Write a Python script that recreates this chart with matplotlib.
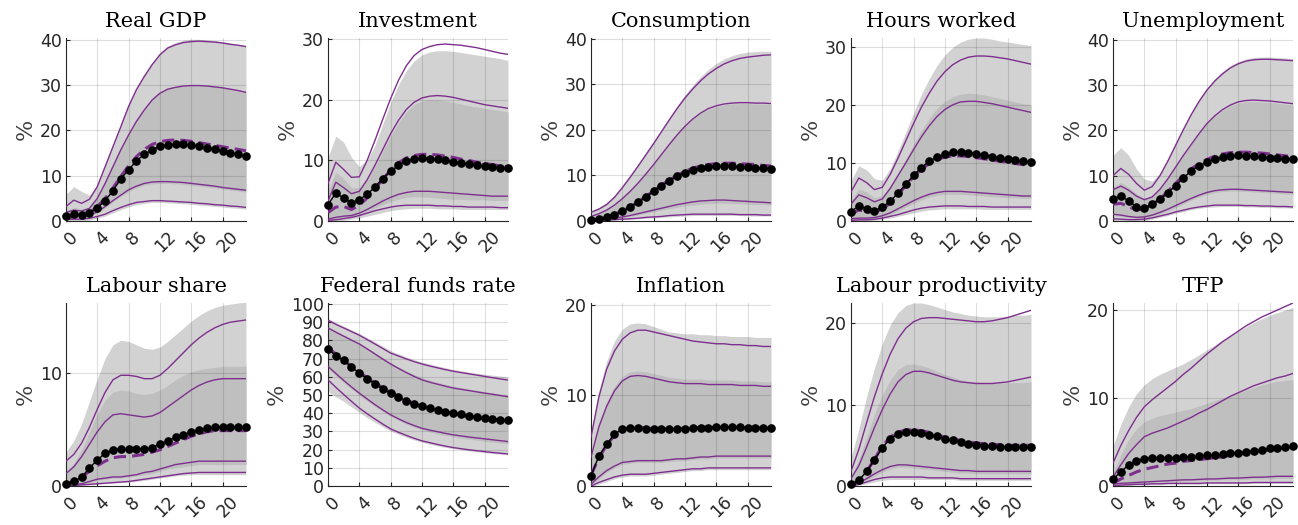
import numpy as np
import matplotlib.pyplot as plt
from matplotlib.transforms import ScaledTranslation

horizon = np.arange(24)

titles = ["Real GDP", "Investment", "Consumption", "Hours worked", "Unemployment",
          "Labour share", "Federal funds rate", "Inflation", "Labour productivity", "TFP"]
ytops = [40.4, 30.2, 40.2, 31.5, 40.4, 16.2, 100.5, 20.2, 22.5, 20.8]
yticks = [[0, 10, 20, 30, 40], [0, 10, 20, 30], [0, 10, 20, 30, 40], [0, 10, 20, 30],
          [0, 10, 20, 30, 40], [0, 10], list(range(0, 101, 10)), [0, 10, 20], [0, 10, 20], [0, 10, 20]]
xticks = [0, 4, 8, 12, 16, 20]

# ---------------- Real GDP
gdp_dots = [1.1, 1.5, 1.3, 1.7, 2.9, 4.5, 6.7, 9.3, 11.3, 13.3, 14.7, 15.7, 16.5, 16.8, 16.9, 16.9, 16.8, 16.5, 16.1, 15.8, 15.4, 15.0, 14.7, 14.3]
gdp_med = [0.5, 1.0, 1.2, 1.8, 3.2, 5.0, 7.3, 9.8, 12.2, 14.2, 15.8, 16.9, 17.5, 17.8, 17.9, 17.8, 17.6, 17.3, 17.0, 16.7, 16.4, 16.1, 15.8, 15.5]
gdp_p95 = [3.2, 4.6, 3.9, 4.8, 7.6, 12.0, 16.4, 20.8, 25.3, 29.0, 31.9, 34.5, 36.7, 38.2, 38.9, 39.4, 39.6, 39.7, 39.6, 39.5, 39.3, 39.0, 38.8, 38.5]
gdp_p84 = [1.9, 2.4, 2.2, 2.8, 5.0, 8.3, 12.0, 15.7, 19.0, 22.0, 24.5, 26.7, 28.2, 29.1, 29.5, 29.8, 29.9, 29.9, 29.8, 29.6, 29.4, 29.1, 28.8, 28.4]
gdp_p16 = [1.0, 1.1, 1.1, 1.3, 2.0, 3.2, 4.5, 5.7, 6.9, 7.7, 8.3, 8.6, 8.7, 8.7, 8.6, 8.5, 8.3, 8.1, 7.9, 7.7, 7.4, 7.2, 7.0, 6.8]
gdp_p05 = [0.4, 0.4, 0.4, 0.6, 1.0, 1.5, 2.3, 3.0, 3.6, 4.1, 4.3, 4.5, 4.5, 4.4, 4.3, 4.2, 4.1, 3.9, 3.8, 3.6, 3.5, 3.3, 3.2, 3.0]
gdp_g95 = [5.9, 7.6, 6.5, 5.7, 8.0, 12.3, 16.8, 21.2, 25.7, 29.4, 32.3, 34.9, 37.1, 38.6, 39.4, 39.9, 40.1, 40.1, 40.0, 39.8, 39.6, 39.3, 39.0, 38.7]
gdp_g84 = [2.3, 3.0, 2.7, 3.0, 5.2, 8.5, 12.2, 15.9, 19.2, 22.2, 24.7, 26.9, 28.4, 29.3, 29.7, 30.0, 30.1, 30.1, 30.0, 29.8, 29.6, 29.3, 29.0, 28.6]
gdp_g16 = [0.8, 0.9, 0.9, 1.1, 1.8, 2.9, 4.2, 5.4, 6.5, 7.3, 7.9, 8.2, 8.3, 8.3, 8.2, 8.1, 7.9, 7.7, 7.5, 7.3, 7.0, 6.8, 6.6, 6.4]
gdp_g05 = [0.0, 0.0, 0.0, 0.2, 0.6, 1.1, 1.8, 2.5, 3.1, 3.6, 3.9, 4.1, 4.1, 4.0, 3.9, 3.8, 3.7, 3.5, 3.4, 3.2, 3.1, 2.9, 2.8, 2.6]

# ---------------- Investment
inv_dots = [2.7, 4.6, 3.8, 3.0, 3.5, 4.4, 5.6, 7.0, 8.2, 9.2, 9.9, 10.2, 10.4, 10.3, 10.2, 10.0, 9.8, 9.6, 9.4, 9.2, 9.0, 8.9, 8.8, 8.7]
inv_med = [1.4, 2.3, 2.4, 1.9, 2.6, 3.8, 5.3, 6.9, 8.4, 9.6, 10.4, 10.8, 11.0, 11.0, 10.9, 10.7, 10.5, 10.2, 10.0, 9.7, 9.5, 9.3, 9.1, 8.9]
inv_p95 = [6.2, 9.7, 8.5, 7.2, 7.3, 10.0, 13.3, 16.8, 20.2, 23.2, 25.6, 27.3, 28.3, 28.8, 29.1, 29.2, 29.1, 29.0, 28.8, 28.6, 28.3, 28.0, 27.7, 27.5]
inv_p84 = [3.3, 6.4, 5.5, 4.5, 4.9, 6.8, 9.2, 11.8, 14.4, 16.6, 18.4, 19.6, 20.3, 20.6, 20.7, 20.6, 20.4, 20.1, 19.8, 19.5, 19.2, 19.0, 18.8, 18.6]
inv_p16 = [0.3, 0.6, 0.8, 0.9, 1.3, 1.9, 2.6, 3.3, 3.9, 4.4, 4.7, 4.9, 4.9, 4.9, 4.8, 4.7, 4.6, 4.5, 4.4, 4.3, 4.2, 4.1, 4.1, 4.1]
inv_p05 = [0.1, 0.2, 0.4, 0.6, 0.9, 1.3, 1.7, 2.0, 2.3, 2.5, 2.6, 2.6, 2.6, 2.6, 2.5, 2.5, 2.4, 2.4, 2.3, 2.3, 2.3, 2.3, 2.2, 2.2]
inv_g95 = [10.5, 14.0, 13.0, 10.5, 9.0, 10.0, 12.5, 16.0, 19.5, 22.5, 24.8, 26.4, 27.4, 27.9, 28.1, 28.1, 28.0, 27.8, 27.6, 27.4, 27.2, 27.0, 26.8, 26.5]
inv_g84 = [5.0, 8.0, 7.0, 5.5, 5.5, 6.8, 9.0, 11.5, 14.0, 16.2, 18.0, 19.2, 19.8, 20.0, 20.0, 19.8, 19.6, 19.3, 19.0, 18.8, 18.6, 18.4, 18.2, 18.0]
inv_g16 = [0.2, 0.4, 0.6, 0.7, 1.0, 1.5, 2.1, 2.7, 3.2, 3.6, 3.9, 4.0, 4.0, 3.9, 3.8, 3.7, 3.6, 3.6, 3.5, 3.5, 3.5, 3.4, 3.4, 3.4]
inv_g05 = [0.0, 0.0, 0.1, 0.3, 0.5, 0.8, 1.1, 1.4, 1.7, 1.9, 2.0, 2.1, 2.1, 2.1, 2.0, 2.0, 2.0, 1.9, 1.9, 1.9, 1.9, 1.9, 1.9, 1.9]

# ---------------- Consumption
con_dots = [0.2, 0.5, 0.9, 1.4, 2.1, 3.0, 4.1, 5.3, 6.5, 7.7, 8.8, 9.8, 10.6, 11.2, 11.6, 11.9, 12.0, 12.1, 12.0, 11.9, 11.8, 11.7, 11.6, 11.5]
con_med = [0.2, 0.5, 0.9, 1.5, 2.2, 3.1, 4.2, 5.4, 6.6, 7.9, 9.0, 10.0, 10.9, 11.6, 12.1, 12.4, 12.6, 12.7, 12.7, 12.6, 12.5, 12.4, 12.2, 12.1]
con_p95 = [1.9, 2.6, 3.6, 5.2, 7.3, 9.6, 12.0, 14.5, 17.0, 19.6, 22.2, 24.7, 27.0, 29.0, 30.8, 32.3, 33.5, 34.5, 35.2, 35.7, 36.0, 36.2, 36.4, 36.5]
con_p84 = [1.0, 1.6, 2.4, 3.5, 4.9, 6.5, 8.3, 10.3, 12.4, 14.6, 16.8, 18.9, 20.8, 22.4, 23.7, 24.7, 25.3, 25.7, 25.9, 26.0, 26.0, 25.9, 25.9, 25.8]
con_p16 = [0.1, 0.2, 0.4, 0.6, 0.9, 1.2, 1.6, 2.0, 2.4, 2.8, 3.2, 3.6, 3.9, 4.2, 4.4, 4.5, 4.6, 4.6, 4.5, 4.4, 4.3, 4.2, 4.1, 4.0]
con_p05 = [0.0, 0.1, 0.2, 0.3, 0.4, 0.5, 0.6, 0.8, 0.9, 1.0, 1.2, 1.3, 1.4, 1.5, 1.5, 1.5, 1.5, 1.5, 1.5, 1.4, 1.4, 1.4, 1.3, 1.3]
con_g95 = [2.2, 3.0, 4.1, 5.7, 7.8, 10.1, 12.5, 15.0, 17.5, 20.1, 22.7, 25.3, 27.7, 29.8, 31.7, 33.3, 34.6, 35.6, 36.3, 36.8, 37.1, 37.2, 37.3, 37.3]
con_g84 = [1.1, 1.7, 2.5, 3.6, 5.0, 6.6, 8.4, 10.4, 12.5, 14.7, 16.9, 19.0, 20.8, 22.3, 23.6, 24.5, 25.1, 25.5, 25.7, 25.8, 25.8, 25.7, 25.7, 25.6]
con_g16 = [0.1, 0.2, 0.3, 0.5, 0.7, 1.0, 1.3, 1.7, 2.0, 2.4, 2.7, 3.0, 3.3, 3.5, 3.7, 3.8, 3.9, 3.9, 3.8, 3.8, 3.7, 3.6, 3.6, 3.5]
con_g05 = [0.0, 0.0, 0.1, 0.2, 0.3, 0.4, 0.5, 0.6, 0.7, 0.8, 0.9, 1.0, 1.1, 1.2, 1.2, 1.2, 1.2, 1.2, 1.2, 1.2, 1.1, 1.1, 1.1, 1.1]

# ---------------- Hours worked
hrs_dots = [1.6, 2.6, 2.1, 1.8, 2.4, 3.4, 4.8, 6.3, 7.9, 9.2, 10.3, 11.0, 11.5, 11.8, 11.8, 11.7, 11.6, 11.4, 11.1, 10.9, 10.7, 10.5, 10.3, 10.2]
hrs_med = [1.2, 1.9, 1.6, 1.5, 2.0, 3.1, 4.5, 6.1, 7.6, 8.9, 9.9, 10.6, 11.0, 11.2, 11.2, 11.1, 10.9, 10.7, 10.5, 10.3, 10.1, 9.9, 9.7, 9.6]
hrs_p95 = [5.0, 7.4, 6.6, 5.4, 5.8, 8.0, 10.8, 13.8, 16.8, 19.6, 22.0, 24.1, 25.7, 26.9, 27.7, 28.2, 28.4, 28.4, 28.3, 28.1, 27.9, 27.6, 27.3, 27.0]
hrs_p84 = [2.9, 4.5, 4.0, 3.3, 3.8, 5.6, 7.8, 10.0, 12.3, 14.5, 16.4, 18.0, 19.2, 20.0, 20.5, 20.6, 20.6, 20.4, 20.2, 19.9, 19.6, 19.3, 19.0, 18.7]
hrs_p16 = [0.4, 0.5, 0.5, 0.6, 0.9, 1.4, 2.1, 2.8, 3.5, 4.1, 4.6, 4.9, 5.1, 5.1, 5.1, 5.0, 4.9, 4.8, 4.7, 4.6, 4.5, 4.4, 4.3, 4.3]
hrs_p05 = [0.1, 0.2, 0.2, 0.3, 0.5, 0.8, 1.1, 1.5, 1.9, 2.2, 2.4, 2.5, 2.6, 2.6, 2.6, 2.5, 2.5, 2.5, 2.4, 2.4, 2.4, 2.4, 2.4, 2.4]
hrs_g95 = [7.0, 9.5, 8.8, 7.3, 7.0, 9.0, 12.0, 15.3, 18.6, 21.8, 24.5, 26.8, 28.6, 29.9, 30.8, 31.3, 31.5, 31.5, 31.3, 31.0, 30.8, 30.6, 30.4, 30.2]
hrs_g84 = [3.5, 5.5, 5.0, 4.0, 4.3, 6.0, 8.2, 10.7, 13.2, 15.6, 17.7, 19.4, 20.6, 21.4, 21.8, 22.0, 21.9, 21.7, 21.4, 21.1, 20.8, 20.5, 20.2, 20.0]
hrs_g16 = [0.2, 0.3, 0.3, 0.4, 0.7, 1.1, 1.7, 2.4, 3.0, 3.6, 4.1, 4.4, 4.6, 4.6, 4.6, 4.5, 4.4, 4.3, 4.2, 4.1, 4.0, 4.0, 3.9, 3.9]
hrs_g05 = [0.0, 0.0, 0.0, 0.1, 0.3, 0.5, 0.8, 1.1, 1.4, 1.7, 1.9, 2.0, 2.1, 2.1, 2.1, 2.1, 2.1, 2.0, 2.0, 2.0, 2.0, 2.0, 2.0, 2.0]

# ---------------- Unemployment
une_dots = [4.8, 5.6, 4.4, 3.2, 2.9, 3.7, 4.8, 6.2, 7.8, 9.5, 11.1, 12.2, 13.0, 13.7, 14.1, 14.4, 14.5, 14.4, 14.3, 14.1, 14.0, 13.8, 13.6, 13.6]
une_med = [3.7, 3.9, 3.2, 2.4, 2.7, 3.6, 4.9, 6.5, 8.3, 10.0, 11.5, 12.7, 13.6, 14.3, 14.8, 15.1, 15.2, 15.2, 15.1, 15.0, 14.8, 14.6, 14.4, 14.2]
une_p95 = [10.0, 11.6, 10.3, 8.3, 6.8, 7.6, 10.0, 13.2, 16.7, 20.2, 23.5, 26.4, 28.9, 30.9, 32.5, 33.8, 34.7, 35.3, 35.6, 35.7, 35.7, 35.6, 35.5, 35.4]
une_p84 = [6.9, 7.7, 6.8, 5.5, 4.7, 5.3, 7.0, 9.3, 11.9, 14.5, 16.9, 19.3, 21.5, 23.2, 24.6, 25.6, 26.3, 26.6, 26.7, 26.6, 26.5, 26.3, 26.1, 25.9]
une_p16 = [1.5, 1.3, 1.0, 0.8, 0.9, 1.3, 1.9, 2.6, 3.4, 4.2, 5.0, 5.7, 6.3, 6.7, 6.9, 7.0, 7.0, 6.9, 6.8, 6.7, 6.6, 6.5, 6.4, 6.3]
une_p05 = [0.5, 0.4, 0.3, 0.3, 0.4, 0.7, 1.1, 1.5, 2.0, 2.4, 2.8, 3.1, 3.3, 3.5, 3.5, 3.5, 3.5, 3.4, 3.4, 3.3, 3.3, 3.2, 3.2, 3.1]
une_g95 = [14.5, 16.2, 14.5, 11.5, 9.3, 8.8, 10.5, 13.5, 17.0, 20.5, 23.8, 26.8, 29.3, 31.4, 33.0, 34.3, 35.2, 35.8, 36.1, 36.2, 36.2, 36.1, 36.0, 35.8]
une_g84 = [7.5, 8.5, 7.5, 6.0, 5.0, 5.5, 7.2, 9.5, 12.1, 14.7, 17.1, 19.4, 21.5, 23.1, 24.4, 25.4, 26.0, 26.3, 26.4, 26.3, 26.2, 26.0, 25.8, 25.6]
une_g16 = [1.2, 1.0, 0.8, 0.6, 0.7, 1.0, 1.5, 2.2, 3.0, 3.8, 4.6, 5.3, 5.9, 6.3, 6.5, 6.6, 6.6, 6.5, 6.4, 6.3, 6.2, 6.1, 6.0, 5.9]
une_g05 = [0.0, 0.0, 0.0, 0.0, 0.1, 0.4, 0.8, 1.2, 1.7, 2.1, 2.5, 2.8, 3.0, 3.1, 3.2, 3.2, 3.2, 3.1, 3.1, 3.0, 3.0, 2.9, 2.9, 2.8]

# ---------------- Labour share
lsh_dots = [0.2, 0.4, 0.8, 1.6, 2.3, 2.9, 3.2, 3.3, 3.3, 3.3, 3.3, 3.4, 3.7, 4.0, 4.3, 4.5, 4.8, 5.0, 5.1, 5.2, 5.2, 5.2, 5.2, 5.2]
lsh_med = [0.2, 0.4, 0.8, 1.3, 1.8, 2.2, 2.5, 2.6, 2.6, 2.7, 2.8, 3.0, 3.2, 3.5, 3.8, 4.1, 4.4, 4.6, 4.8, 4.9, 4.9, 4.9, 4.9, 4.9]
lsh_p95 = [2.2, 2.8, 3.8, 5.2, 6.8, 8.3, 9.4, 9.8, 9.8, 9.7, 9.5, 9.5, 9.8, 10.4, 11.1, 11.8, 12.5, 13.1, 13.6, 14.0, 14.3, 14.5, 14.6, 14.7]
lsh_p84 = [1.1, 1.7, 2.6, 3.7, 4.8, 5.7, 6.3, 6.4, 6.3, 6.2, 6.1, 6.2, 6.5, 7.0, 7.5, 8.0, 8.5, 8.9, 9.2, 9.4, 9.5, 9.5, 9.5, 9.5]
lsh_p16 = [0.0, 0.1, 0.2, 0.4, 0.6, 0.7, 0.8, 0.8, 0.9, 1.0, 1.2, 1.3, 1.5, 1.7, 1.9, 2.0, 2.1, 2.2, 2.2, 2.2, 2.2, 2.2, 2.2, 2.2]
lsh_p05 = [0.0, 0.05, 0.1, 0.15, 0.2, 0.25, 0.3, 0.35, 0.4, 0.5, 0.6, 0.7, 0.8, 0.9, 1.0, 1.1, 1.15, 1.2, 1.2, 1.2, 1.2, 1.2, 1.2, 1.2]
lsh_g95 = [3.0, 4.0, 5.5, 7.5, 9.5, 11.3, 12.5, 12.9, 12.8, 12.5, 12.2, 12.1, 12.3, 12.8, 13.4, 14.0, 14.6, 15.1, 15.5, 15.8, 16.0, 16.1, 16.2, 16.3]
lsh_g84 = [1.3, 2.0, 3.2, 4.8, 6.4, 7.6, 8.3, 8.5, 8.4, 8.2, 8.1, 8.2, 8.5, 8.9, 9.4, 9.8, 10.1, 10.3, 10.4, 10.5, 10.6, 10.6, 10.6, 10.6]
lsh_g16 = [0.0, 0.1, 0.2, 0.3, 0.5, 0.6, 0.7, 0.7, 0.8, 0.9, 1.0, 1.1, 1.3, 1.5, 1.6, 1.7, 1.8, 1.9, 1.9, 1.9, 1.9, 1.9, 1.9, 1.9]
lsh_g05 = [0.0, 0.0, 0.05, 0.1, 0.15, 0.2, 0.25, 0.3, 0.35, 0.4, 0.5, 0.6, 0.7, 0.8, 0.9, 0.95, 1.0, 1.0, 1.0, 1.0, 1.0, 1.0, 1.0, 1.0]

# ---------------- Federal funds rate
ffr_dots = [75.2, 71.6, 69.0, 65.3, 62.0, 58.9, 56.1, 53.2, 51.0, 48.8, 46.8, 45.1, 44.0, 42.8, 41.8, 40.9, 40.0, 39.3, 38.5, 38.0, 37.4, 36.9, 36.5, 36.0]
ffr_med = [76.0, 72.5, 69.0, 65.8, 62.5, 59.5, 56.6, 53.9, 51.4, 49.2, 47.2, 45.4, 43.9, 42.6, 41.5, 40.5, 39.6, 38.8, 38.1, 37.5, 36.9, 36.4, 36.0, 35.6]
ffr_p95 = [91.0, 88.8, 86.8, 84.8, 82.8, 80.4, 78.0, 75.5, 73.0, 71.4, 69.8, 68.3, 67.0, 65.9, 64.9, 63.9, 63.0, 62.3, 61.6, 60.9, 60.2, 59.5, 58.8, 58.2]
ffr_p84 = [86.8, 84.5, 82.3, 80.1, 78.0, 75.3, 72.5, 69.7, 67.0, 64.6, 62.3, 60.2, 58.3, 57.0, 55.9, 54.8, 53.8, 53.1, 52.4, 51.7, 51.0, 50.4, 49.7, 49.0]
ffr_p16 = [65.7, 61.8, 58.0, 54.4, 51.0, 47.8, 44.7, 41.8, 39.1, 36.9, 34.9, 33.2, 31.7, 30.7, 29.8, 28.9, 28.1, 27.5, 26.9, 26.4, 25.9, 25.4, 24.9, 24.4]
ffr_p05 = [58.3, 54.2, 50.3, 46.5, 42.8, 39.7, 36.8, 34.0, 31.4, 29.5, 27.8, 26.2, 24.8, 23.8, 22.8, 21.9, 21.1, 20.5, 19.9, 19.4, 18.9, 18.4, 18.0, 17.6]
ffr_g95 = [92.0, 89.8, 87.8, 85.8, 83.8, 81.5, 79.2, 76.8, 74.4, 72.6, 70.9, 69.4, 68.1, 67.0, 66.0, 65.0, 64.1, 63.3, 62.6, 62.0, 61.4, 60.9, 60.4, 60.0]
ffr_g84 = [87.5, 85.2, 83.0, 80.8, 78.7, 76.0, 73.3, 70.5, 67.9, 65.5, 63.3, 61.3, 59.5, 58.2, 57.0, 55.9, 54.9, 54.1, 53.3, 52.6, 51.9, 51.2, 50.6, 50.0]
ffr_g16 = [64.5, 60.6, 56.8, 53.2, 49.8, 46.6, 43.6, 40.8, 38.2, 36.0, 34.0, 32.3, 30.8, 29.7, 28.7, 27.8, 27.0, 26.3, 25.7, 25.1, 24.6, 24.1, 23.6, 23.2]
ffr_g05 = [52.0, 49.0, 46.5, 43.5, 40.5, 37.5, 35.0, 32.5, 30.2, 28.4, 26.8, 25.3, 24.0, 23.0, 22.0, 21.2, 20.5, 19.9, 19.3, 18.8, 18.3, 17.9, 17.5, 17.1]

# ---------------- Inflation
inf_dots = [1.1, 3.3, 4.6, 5.7, 6.3, 6.4, 6.4, 6.3, 6.3, 6.3, 6.3, 6.3, 6.3, 6.4, 6.4, 6.4, 6.5, 6.5, 6.5, 6.5, 6.4, 6.4, 6.4, 6.4]
inf_med = [1.2, 3.1, 4.5, 5.6, 6.2, 6.5, 6.5, 6.4, 6.3, 6.3, 6.3, 6.3, 6.4, 6.4, 6.5, 6.5, 6.5, 6.5, 6.5, 6.5, 6.5, 6.5, 6.4, 6.4]
inf_p95 = [5.4, 9.8, 12.9, 14.9, 16.2, 16.9, 17.2, 17.2, 17.0, 16.8, 16.6, 16.4, 16.2, 16.0, 15.9, 15.8, 15.7, 15.7, 15.6, 15.6, 15.5, 15.5, 15.4, 15.4]
inf_p84 = [3.2, 6.5, 8.8, 10.5, 11.6, 12.1, 12.2, 12.1, 11.9, 11.7, 11.5, 11.4, 11.3, 11.3, 11.3, 11.2, 11.2, 11.2, 11.2, 11.1, 11.1, 11.1, 11.0, 11.0]
inf_p16 = [0.2, 1.0, 1.7, 2.2, 2.6, 2.7, 2.8, 2.8, 2.8, 2.8, 2.9, 3.0, 3.0, 3.1, 3.2, 3.2, 3.3, 3.3, 3.3, 3.3, 3.3, 3.3, 3.3, 3.3]
inf_p05 = [0.0, 0.4, 0.7, 1.0, 1.2, 1.3, 1.3, 1.3, 1.4, 1.5, 1.6, 1.7, 1.8, 1.9, 1.9, 2.0, 2.0, 2.0, 2.0, 2.0, 2.0, 2.0, 2.0, 2.0]
inf_g95 = [6.0, 10.5, 13.8, 16.0, 17.3, 17.9, 18.0, 17.9, 17.6, 17.3, 17.0, 16.9, 16.8, 16.8, 16.7, 16.7, 16.6, 16.6, 16.5, 16.5, 16.5, 16.4, 16.4, 16.4]
inf_g84 = [3.5, 7.0, 9.3, 11.0, 12.1, 12.6, 12.7, 12.6, 12.4, 12.2, 12.0, 11.9, 11.8, 11.8, 11.8, 11.7, 11.7, 11.7, 11.7, 11.6, 11.6, 11.6, 11.5, 11.5]
inf_g16 = [0.1, 0.8, 1.5, 2.0, 2.4, 2.5, 2.6, 2.6, 2.6, 2.6, 2.7, 2.8, 2.8, 2.9, 3.0, 3.0, 3.1, 3.1, 3.1, 3.1, 3.1, 3.1, 3.1, 3.1]
inf_g05 = [0.0, 0.2, 0.5, 0.8, 1.0, 1.1, 1.1, 1.1, 1.2, 1.3, 1.4, 1.5, 1.6, 1.7, 1.7, 1.8, 1.8, 1.8, 1.8, 1.8, 1.8, 1.8, 1.8, 1.8]

# ---------------- Labour productivity
lpr_dots = [0.2, 0.7, 1.8, 3.2, 4.7, 5.8, 6.4, 6.6, 6.6, 6.5, 6.3, 6.1, 5.8, 5.6, 5.4, 5.2, 5.1, 4.9, 4.9, 4.8, 4.8, 4.8, 4.8, 4.8]
lpr_med = [0.1, 0.7, 1.8, 3.3, 4.9, 6.0, 6.6, 6.9, 6.9, 6.8, 6.6, 6.3, 6.0, 5.8, 5.6, 5.4, 5.3, 5.2, 5.1, 5.1, 5.0, 5.0, 5.0, 5.0]
lpr_p95 = [1.8, 4.5, 7.8, 11.0, 13.8, 16.2, 18.1, 19.4, 20.2, 20.6, 20.7, 20.7, 20.6, 20.5, 20.4, 20.3, 20.2, 20.2, 20.3, 20.5, 20.7, 21.0, 21.3, 21.6]
lpr_p84 = [0.9, 2.5, 4.8, 7.2, 9.4, 11.3, 12.8, 13.7, 14.1, 14.1, 13.9, 13.6, 13.3, 13.0, 12.8, 12.7, 12.6, 12.6, 12.6, 12.7, 12.8, 13.0, 13.2, 13.4]
lpr_p16 = [0.0, 0.4, 0.9, 1.5, 2.0, 2.4, 2.6, 2.6, 2.5, 2.4, 2.3, 2.2, 2.1, 2.0, 1.9, 1.9, 1.8, 1.8, 1.8, 1.8, 1.8, 1.8, 1.8, 1.8]
lpr_p05 = [0.0, 0.2, 0.5, 0.8, 1.0, 1.1, 1.1, 1.1, 1.1, 1.1, 1.0, 1.0, 1.0, 1.0, 0.9, 0.9, 0.9, 0.9, 0.9, 0.9, 0.9, 0.9, 0.9, 0.9]
lpr_g95 = [3.5, 7.0, 11.0, 14.5, 17.5, 19.8, 21.3, 22.2, 22.5, 22.5, 22.3, 22.0, 21.7, 21.4, 21.2, 21.0, 20.9, 20.8, 20.8, 20.8, 20.9, 21.0, 21.0, 21.1]
lpr_g84 = [1.2, 3.2, 6.0, 8.8, 11.2, 13.0, 14.3, 14.9, 15.0, 14.8, 14.5, 14.1, 13.7, 13.4, 13.1, 12.9, 12.8, 12.7, 12.7, 12.7, 12.7, 12.7, 12.7, 12.8]
lpr_g16 = [0.0, 0.3, 0.7, 1.2, 1.7, 2.1, 2.3, 2.3, 2.2, 2.1, 2.0, 1.9, 1.8, 1.7, 1.6, 1.6, 1.5, 1.5, 1.5, 1.5, 1.5, 1.5, 1.5, 1.5]
lpr_g05 = [0.0, 0.1, 0.3, 0.5, 0.7, 0.8, 0.8, 0.8, 0.8, 0.8, 0.8, 0.8, 0.8, 0.8, 0.7, 0.7, 0.7, 0.7, 0.7, 0.7, 0.7, 0.7, 0.7, 0.7]

# ---------------- TFP
tfp_dots = [0.8, 1.6, 2.4, 2.8, 3.1, 3.2, 3.2, 3.2, 3.2, 3.3, 3.3, 3.4, 3.5, 3.5, 3.6, 3.7, 3.8, 3.9, 4.0, 4.1, 4.3, 4.3, 4.4, 4.5]
tfp_med = [0.3, 0.8, 1.2, 1.6, 1.9, 2.1, 2.3, 2.5, 2.6, 2.8, 2.9, 3.0, 3.1, 3.2, 3.3, 3.5, 3.6, 3.7, 3.9, 4.0, 4.1, 4.2, 4.4, 4.5]
tfp_p95 = [2.6, 4.6, 6.3, 7.8, 9.0, 9.8, 10.5, 11.2, 11.9, 12.7, 13.4, 14.2, 15.0, 15.7, 16.4, 17.0, 17.6, 18.2, 18.7, 19.2, 19.6, 20.0, 20.4, 20.8]
tfp_p84 = [1.0, 2.4, 3.7, 4.7, 5.6, 6.0, 6.3, 6.6, 7.0, 7.4, 7.8, 8.3, 8.7, 9.2, 9.7, 10.2, 10.6, 11.0, 11.4, 11.7, 12.0, 12.3, 12.5, 12.8]
tfp_p16 = [0.2, 0.3, 0.35, 0.4, 0.45, 0.5, 0.55, 0.6, 0.65, 0.7, 0.7, 0.75, 0.8, 0.8, 0.85, 0.9, 0.9, 0.95, 1.0, 1.0, 1.05, 1.1, 1.1, 1.1]
tfp_p05 = [0.0, 0.1, 0.15, 0.2, 0.2, 0.25, 0.25, 0.3, 0.3, 0.3, 0.3, 0.3, 0.35, 0.35, 0.35, 0.35, 0.35, 0.35, 0.4, 0.4, 0.4, 0.4, 0.4, 0.4]
tfp_g95 = [4.5, 7.0, 9.0, 10.5, 11.5, 12.2, 12.7, 13.1, 13.5, 13.9, 14.4, 14.9, 15.5, 16.0, 16.6, 17.1, 17.6, 18.1, 18.6, 19.0, 19.4, 19.7, 20.0, 20.3]
tfp_g84 = [1.5, 3.5, 5.3, 6.5, 7.3, 7.7, 8.0, 8.2, 8.4, 8.6, 8.8, 9.1, 9.4, 9.7, 10.0, 10.3, 10.6, 10.9, 11.2, 11.5, 11.7, 11.9, 12.0, 12.1]
tfp_g16 = [0.1, 0.2, 0.25, 0.3, 0.35, 0.4, 0.45, 0.5, 0.5, 0.55, 0.6, 0.6, 0.65, 0.65, 0.7, 0.7, 0.75, 0.75, 0.8, 0.8, 0.8, 0.85, 0.85, 0.85]
tfp_g05 = [0.0, 0.0, 0.05, 0.1, 0.1, 0.15, 0.15, 0.2, 0.2, 0.2, 0.2, 0.2, 0.25, 0.25, 0.25, 0.25, 0.25, 0.25, 0.3, 0.3, 0.3, 0.3, 0.3, 0.3]

panels = [
    (gdp_dots, gdp_med, gdp_p05, gdp_p16, gdp_p84, gdp_p95, gdp_g05, gdp_g16, gdp_g84, gdp_g95),
    (inv_dots, inv_med, inv_p05, inv_p16, inv_p84, inv_p95, inv_g05, inv_g16, inv_g84, inv_g95),
    (con_dots, con_med, con_p05, con_p16, con_p84, con_p95, con_g05, con_g16, con_g84, con_g95),
    (hrs_dots, hrs_med, hrs_p05, hrs_p16, hrs_p84, hrs_p95, hrs_g05, hrs_g16, hrs_g84, hrs_g95),
    (une_dots, une_med, une_p05, une_p16, une_p84, une_p95, une_g05, une_g16, une_g84, une_g95),
    (lsh_dots, lsh_med, lsh_p05, lsh_p16, lsh_p84, lsh_p95, lsh_g05, lsh_g16, lsh_g84, lsh_g95),
    (ffr_dots, ffr_med, ffr_p05, ffr_p16, ffr_p84, ffr_p95, ffr_g05, ffr_g16, ffr_g84, ffr_g95),
    (inf_dots, inf_med, inf_p05, inf_p16, inf_p84, inf_p95, inf_g05, inf_g16, inf_g84, inf_g95),
    (lpr_dots, lpr_med, lpr_p05, lpr_p16, lpr_p84, lpr_p95, lpr_g05, lpr_g16, lpr_g84, lpr_g95),
    (tfp_dots, tfp_med, tfp_p05, tfp_p16, tfp_p84, tfp_p95, tfp_g05, tfp_g16, tfp_g84, tfp_g95),
]

purple = '#7E2F8E'
txt = '#262626'
W, H = 1298, 525

fig = plt.figure(figsize=(W / 100, H / 100), dpi=100)
lefts = [66, 328, 591, 851, 1113]
rows = [(38, 221), (303, 486)]
shift = ScaledTranslation(0.05, 0, fig.dpi_scale_trans)

for i, (dots, med, p05, p16, p84, p95, g05, g16, g84, g95) in enumerate(panels):
    top, bot = rows[i // 5]
    ax = fig.add_axes([lefts[i % 5] / W, 1 - bot / H, 180 / W, (bot - top) / H])

    ax.fill_between(horizon, g05, g95, color='#d2d2d2', lw=0, zorder=1)
    ax.fill_between(horizon, g16, g84, color='#bfbfbf', lw=0, zorder=1.1)
    for band in (p05, p16, p84, p95):
        ax.plot(horizon, band, color=purple, lw=1.0, zorder=3)
    ax.plot(horizon, med, color=purple, lw=2.2, dashes=(4, 2), zorder=4)
    ax.plot(horizon, dots, '-o', color='k', lw=1.0, ms=5.2, zorder=5, clip_on=False)

    ax.set_xlim(0, 23)
    ax.set_ylim(0, ytops[i])
    ax.set_xticks(xticks)
    ax.set_yticks(yticks[i])
    ax.grid(True, color='0.15', alpha=0.15, lw=0.8)
    ax.set_axisbelow(False)
    for s in ['top', 'right']:
        ax.spines[s].set_visible(False)
    for s in ['left', 'bottom']:
        ax.spines[s].set_color(txt)
        ax.spines[s].set_linewidth(0.8)
    ax.tick_params(direction='in', length=3, colors=txt, labelsize=12.5)
    ax.tick_params(axis='x', pad=5)
    ax.tick_params(axis='y', pad=3)
    for lab in ax.get_xticklabels():
        lab.set_rotation(45)
        lab.set_ha('center')
        lab.set_transform(lab.get_transform() + shift)
    ax.set_title(titles[i], fontfamily='DejaVu Serif', fontsize=15, pad=8)
    ax.set_ylabel('%', fontfamily='DejaVu Serif', fontsize=16, color='#404040', labelpad=2)

fig.savefig('out.png', dpi=100)
